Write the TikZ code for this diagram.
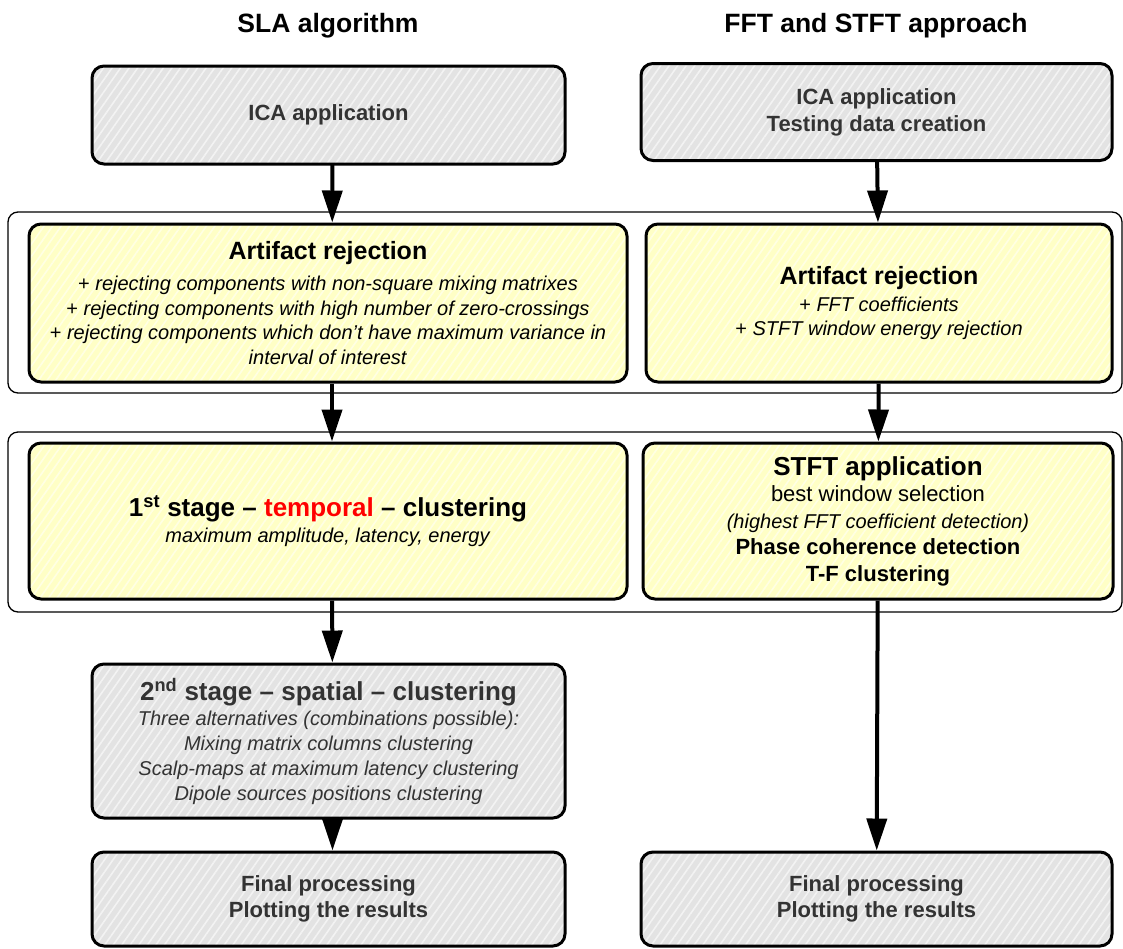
\documentclass[tikz,border=0pt]{standalone}
\usepackage{fontspec}
\setmainfont{Liberation Sans}
\usetikzlibrary{arrows.meta,patterns.meta}
\definecolor{boxgray}{HTML}{E3E3E3}
\definecolor{stripegray}{HTML}{F3F3F3}
\definecolor{boxyellow}{HTML}{FFFFC6}
\definecolor{stripeyellow}{HTML}{FFFFE4}
\definecolor{textgray}{HTML}{333333}
\newcommand{\setfs}[2]{\fontsize{#1}{#2}\selectfont}
\newcommand{\boxhead}[1]{{\upshape\bfseries\setfs{26}{30}#1}}
\begin{document}
\begin{tikzpicture}[x=1pt,y=-1pt]
    \tikzset{title/.style = {font=\bfseries\setfs{26.5}{31}}}
    \tikzset{group/.style = {draw, line width=1.3pt, rounded corners=10pt}}
    \tikzset{graybox/.style = {draw, line width=3pt, rounded corners=12pt, align=center,
        preaction={fill=boxgray}, pattern={Lines[angle=55,distance=7pt,line width=1.6pt]},
        pattern color=stripegray, text=textgray, font=\bfseries\setfs{22}{27}}}
    \tikzset{yelbox/.style = {draw, line width=3pt, rounded corners=12pt, align=center,
        preaction={fill=boxyellow}, pattern={Lines[angle=55,distance=7pt,line width=1.6pt]},
        pattern color=stripeyellow, font=\setfs{20}{24.5}}}
    \tikzset{flow/.style = {line width=4pt, -{Triangle[length=32pt,width=20pt]}}}
    \useasboundingbox (0,0) rectangle (1123,948);
    % column titles
    \node[title] (tsla) at (328,26) {SLA algorithm};
    \node[title] (tfft) at (876,26) {FFT and STFT approach};
    % frames round the two middle rows
    \node[group, minimum width=1114pt, minimum height=181pt] (grpa) at (565,302.5) {};
    \node[group, minimum width=1114pt, minimum height=180pt] (grpb) at (565,522) {};
    % boxes on the left
    \node[graybox, minimum width=473pt, minimum height=98pt] (icaa) at (328.5,115) {ICA application};
    \node[yelbox, minimum width=598pt, minimum height=158pt] (reja) at (328,303)
        {\boxhead{\setfs{25}{30}Artifact rejection}\\[7pt]
         + \textit{rejecting components with non-square mixing matrixes}\\
         + \textit{rejecting components with high number of zero-crossings}\\
         + \textit{rejecting components which don’t have maximum variance in}\\
         \textit{interval of interest}};
    \node[yelbox, minimum width=598pt, minimum height=156pt] (stga) at (328,521)
        {\boxhead{1\textsuperscript{st} stage -- \textcolor{red}{temporal} -- clustering}\\[2pt]
         \textit{maximum amplitude, latency, energy}};
    \node[graybox, minimum width=473pt, minimum height=154pt, font=\itshape\setfs{20}{25}] (stgb) at (328.5,741)
        {\boxhead{2\textsuperscript{nd} stage -- spatial -- clustering}\\
         Three alternatives (combinations possible):\\
         Mixing matrix columns clustering\\
         Scalp-maps at maximum latency clustering\\
         Dipole sources positions clustering};
    \node[graybox, minimum width=473pt, minimum height=94pt, font=\bfseries\setfs{22}{26}] (fina) at (328.5,899)
        {Final processing\\Plotting the results};
    % boxes on the right
    \node[graybox, minimum width=471pt, minimum height=97pt] (icab) at (876.5,112)
        {ICA application\\Testing data creation};
    \node[yelbox, minimum width=466pt, minimum height=158pt, font=\setfs{20}{23.5}] (rejb) at (879,303)
        {\boxhead{\setfs{25}{30}Artifact rejection}\\[4pt]
         + \textit{FFT coefficients}\\
         + \textit{STFT window energy rejection}};
    \node[yelbox, minimum width=470pt, minimum height=156pt, font=\setfs{22}{26.5}] (stft) at (878,521)
        {\boxhead{STFT application}\\
         best window selection\\
         {\itshape\setfs{20}{24}(highest FFT coefficient detection)}\\
         \textbf{Phase coherence detection}\\
         \textbf{T-F clustering}};
    \node[graybox, minimum width=471pt, minimum height=94pt, font=\bfseries\setfs{22}{26}] (finb) at (876.5,899)
        {Final processing\\Plotting the results};
    % arrows
    \begin{scope}[transform canvas={xshift=4pt}]
    \draw[flow] (icaa) -- (reja);
    \draw[flow] (reja) -- (stga);
    \draw[flow] (stga) -- (stgb);
    \draw[flow] (stgb) -- (fina);
    \end{scope}
    \draw[flow] (icab) -- (rejb);
    \draw[flow] (rejb) -- (stft);
    \draw[flow] (stft) -- (finb);
\end{tikzpicture}
\end{document}
